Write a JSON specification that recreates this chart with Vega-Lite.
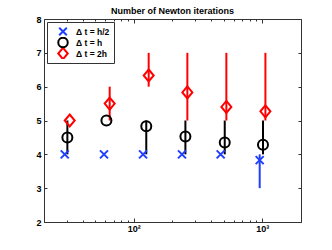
{
  "$schema": "https://vega.github.io/schema/vega-lite/v6.json",
  "width": 257,
  "height": 203,
  "autosize": "none",
  "padding": {"left": 44, "top": 19, "right": 31, "bottom": 28},
  "background": "white",
  "config": {
    "view": {"stroke": "#333", "strokeWidth": 1},
    "font": "Liberation Sans",
    "axis": {"domain": false, "grid": false, "labelFont": "Liberation Sans", "labelFontWeight": "bold", "labelColor": "#000", "labelFontSize": 9, "tickColor": "#333", "tickWidth": 1}
  },
  "title": {"text": "Number of Newton iterations", "fontSize": 9, "fontWeight": "bold", "font": "Liberation Sans", "offset": -1, "color": "#000"},
  "data": {"values": [
    {"series": "h/2", "x": 29, "y": 4, "lo": 4, "hi": 4},
    {"series": "h/2", "x": 58.6, "y": 4, "lo": 4, "hi": 4},
    {"series": "h/2", "x": 118, "y": 4, "lo": 4, "hi": 4},
    {"series": "h/2", "x": 237, "y": 4, "lo": 4, "hi": 4},
    {"series": "h/2", "x": 474, "y": 4, "lo": 4, "hi": 4},
    {"series": "h/2", "x": 954, "y": 3.83, "lo": 3, "hi": 4},
    {"series": "h", "x": 30.4, "y": 4.5, "lo": 4, "hi": 5},
    {"series": "h", "x": 61.2, "y": 5, "lo": 5, "hi": 5},
    {"series": "h", "x": 125, "y": 4.83, "lo": 4, "hi": 5},
    {"series": "h", "x": 252, "y": 4.53, "lo": 4, "hi": 5},
    {"series": "h", "x": 510, "y": 4.35, "lo": 4, "hi": 5},
    {"series": "h", "x": 1012, "y": 4.28, "lo": 4, "hi": 5},
    {"series": "2h", "x": 31.7, "y": 5, "lo": 5, "hi": 5},
    {"series": "2h", "x": 64.9, "y": 5.5, "lo": 5, "hi": 6},
    {"series": "2h", "x": 130.5, "y": 6.33, "lo": 6, "hi": 7},
    {"series": "2h", "x": 261, "y": 5.83, "lo": 5, "hi": 7},
    {"series": "2h", "x": 525, "y": 5.4, "lo": 5, "hi": 7},
    {"series": "2h", "x": 1057, "y": 5.27, "lo": 5, "hi": 7}
  ]},
  "layer": [
    {
      "mark": {"type": "rule", "strokeWidth": 2},
      "encoding": {
        "x": {"field": "x", "type": "quantitative", "scale": {"type": "log", "domain": [20, 2000], "nice": false},
              "axis": {"orient": "bottom", "title": null, "values": [20,30,40,50,60,70,80,90,100,200,300,400,500,600,700,800,900,1000,2000],
                       "labelExpr": "datum.value == 100 ? '10²' : datum.value == 1000 ? '10³' : ''",
                       "tickSize": {"condition": {"test": "datum.value == 100 || datum.value == 1000", "value": -4}, "value": -2},
                       "labelPadding": 6, "labelFlush": false}},
        "y": {"field": "lo", "type": "quantitative", "scale": {"domain": [2, 8], "nice": false},
              "axis": {"orient": "left", "title": null, "values": [2,3,4,5,6,7,8], "tickSize": -3, "labelPadding": 6}},
        "y2": {"field": "hi"},
        "color": {"field": "series", "type": "nominal", "scale": {"domain": ["h/2", "h", "2h"], "range": ["#1f3fff", "#000000", "#ff0000"]}}
      }
    },
    {
      "mark": {"type": "point", "filled": false, "strokeWidth": 2, "opacity": 1},
      "encoding": {
        "x": {"field": "x", "type": "quantitative", "axis": null},
        "y": {"field": "y", "type": "quantitative", "axis": null},
        "color": {"field": "series", "type": "nominal", "scale": {"domain": ["h/2", "h", "2h"], "range": ["#1f3fff", "#000000", "#ff0000"]},
                  "legend": {"title": null, "orient": "top-left", "offset": 3, "labelExpr": "'Δ t = ' + datum.label", "strokeColor": "#333", "fillColor": "white", "padding": 4, "symbolOffset": 6, "labelFontWeight": "bold", "labelFontSize": 8.5, "labelFont": "Liberation Sans", "labelColor": "#000", "symbolStrokeWidth": 2, "symbolSize": 90, "rowPadding": 0, "clipHeight": 11, "labelOffset": 7, "cornerRadius": 0}},
        "shape": {"field": "series", "type": "nominal", "scale": {"domain": ["h/2", "h", "2h"], "range": ["M-0.8,-0.8L0.8,0.8M-0.8,0.8L0.8,-0.8", "circle", "M0,-1.2L1,0L0,1.2L-1,0Z"]}},
        "size": {"value": 100}
      }
    },
    {
      "mark": {"type": "rule", "opacity": 0},
      "encoding": {
        "x": {"field": "x", "type": "quantitative", "axis": {"orient": "top", "title": null, "labels": false, "values": [20,30,40,50,60,70,80,90,100,200,300,400,500,600,700,800,900,1000,2000],
              "tickSize": {"condition": {"test": "datum.value == 100 || datum.value == 1000", "value": -4}, "value": -2}}},
        "y": {"field": "lo", "type": "quantitative", "axis": {"orient": "right", "title": null, "labels": false, "values": [2,3,4,5,6,7,8], "tickSize": -3}},
        "y2": {"field": "hi"}
      }
    }
  ],
  "resolve": {"axis": {"x": "independent", "y": "independent"}}
}
